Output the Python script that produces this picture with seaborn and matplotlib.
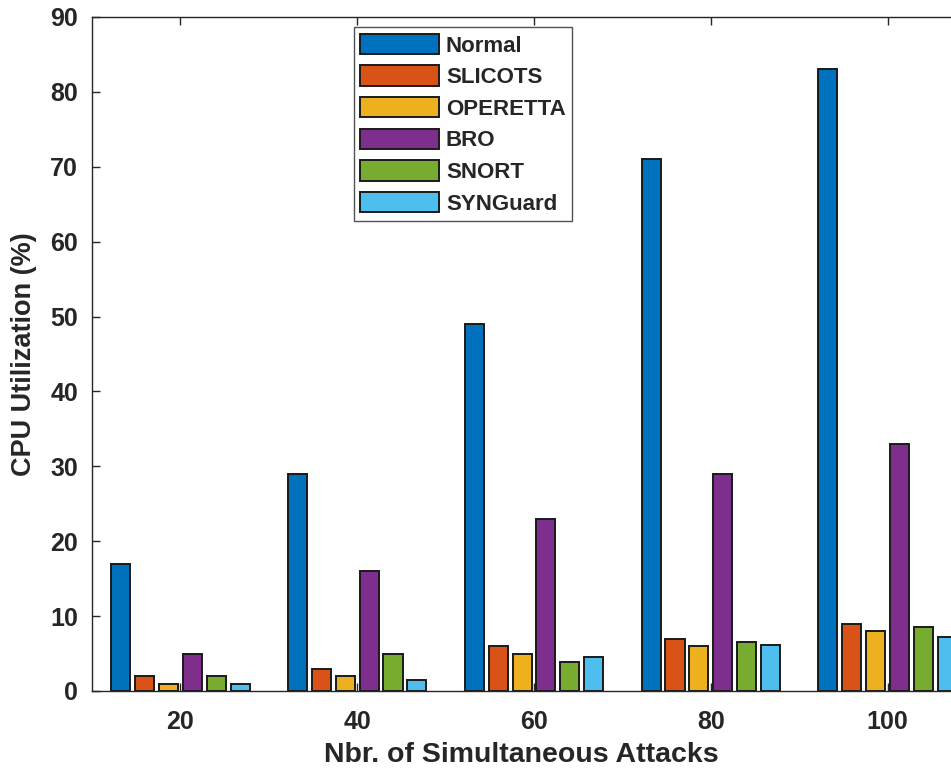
import numpy as np
import pandas as pd
import seaborn as sns
import matplotlib.pyplot as plt

attacks = ['20', '40', '60', '80', '100']
methods = ['Normal', 'SLICOTS', 'OPERETTA', 'BRO', 'SNORT', 'SYNGuard']
normal = [17, 29, 49, 71, 83]
slicots = [2, 3, 6, 7, 9]
operetta = [1, 2, 5, 6, 8]
bro = [5, 16, 23, 29, 33]
snort = [2, 5, 3.9, 6.5, 8.6]
synguard = [1, 1.5, 4.5, 6.2, 7.2]
colors = ['#0072BD', '#D95319', '#EDB120', '#7E2F8E', '#77AC30', '#4DBEEE']

rows = []
for name, vals in zip(methods, [normal, slicots, operetta, bro, snort, synguard]):
    for a, v in zip(attacks, vals):
        rows.append({'attacks': a, 'method': name, 'cpu': v})
df = pd.DataFrame(rows)

sns.set_style('white')
plt.rcParams['font.family'] = ['Liberation Sans', 'DejaVu Sans']
plt.rcParams['font.weight'] = 'bold'

fig = plt.figure(figsize=(9.51, 7.69), dpi=100)
# axes runs a bit past the right edge, as in the cropped original
ax = fig.add_axes([92/951, 1 - 691/769, 884/951, 674/769])

sns.barplot(data=df, x='attacks', y='cpu', hue='method', order=attacks,
            hue_order=methods, palette=colors, width=0.81, gap=0.2,
            edgecolor='#1a1a1a', linewidth=1.4, saturation=1, ax=ax)

ax.set_ylim(0, 90)
ax.set_xlim(-0.5, 4.5)
ax.set_yticks(np.arange(0, 91, 10))
for s in ax.spines.values():
    s.set_color('#262626')
    s.set_linewidth(1.0)
ax.tick_params(axis='both', direction='in', length=6, width=1, colors='#262626',
               labelsize=18, top=True, right=True, left=True, bottom=True)
ax.tick_params(axis='x', pad=14)
ax.tick_params(axis='y', pad=10)
for lbl in ax.get_xticklabels() + ax.get_yticklabels():
    lbl.set_fontweight('bold')

ax.set_ylabel('CPU Utilization (%)', fontsize=19.5, fontweight='bold', color='#262626')
ax.set_xlabel('Nbr. of Simultaneous Attacks', fontsize=20.5, fontweight='bold', color='#262626')
ax.yaxis.set_label_coords(-0.077, 0.5)
ax.xaxis.set_label_coords(0.486, -0.095)
ax.yaxis.label.set_va('center')
ax.xaxis.label.set_va('center')

leg = ax.legend(loc='upper left', bbox_to_anchor=(0.296, 0.985), frameon=True,
                fancybox=False, edgecolor='#262626', fontsize=16,
                handlelength=3.55, handleheight=1.03, labelspacing=0.4,
                borderpad=0.3, handletextpad=0.3, borderaxespad=0)
leg.get_frame().set_linewidth(1.0)
for t in leg.get_texts():
    t.set_fontweight('bold')

plt.savefig('out.png', dpi=100)
plt.close()
